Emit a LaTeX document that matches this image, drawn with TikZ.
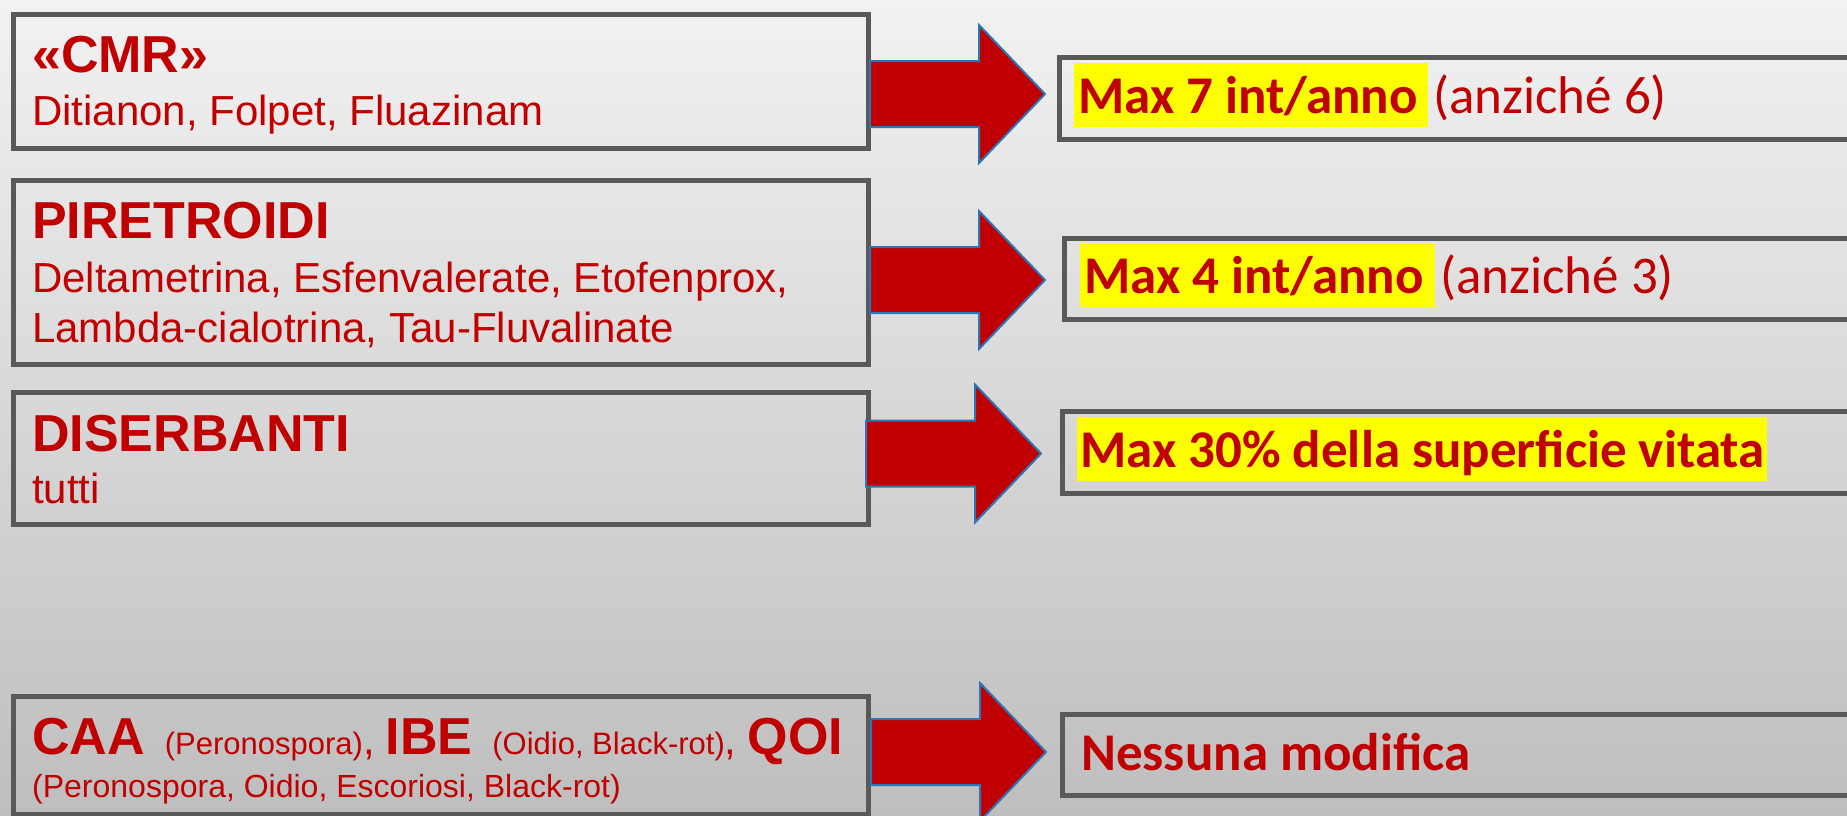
\documentclass[tikz,border=0pt]{standalone}
\usepackage{fontspec}
\usetikzlibrary{calc}
\setmainfont{Liberation Sans}
\newfontfamily\carl{Carlito}
\definecolor{darkred}{HTML}{C00000}
\definecolor{boxgray}{HTML}{595959}
\definecolor{arrowblue}{HTML}{2E75B6}
\definecolor{bgtop}{HTML}{F2F2F2}
\definecolor{bgbot}{HTML}{BEBEBE}
\definecolor{hlyellow}{HTML}{FFFF00}
\newcommand\fsz[1]{\fontsize{#1}{#1}\selectfont}
\begin{document}
\begin{tikzpicture}[x=1pt,y=-1pt,
  lbox/.style={draw=boxgray, line width=5pt, anchor=north west, inner sep=0pt, minimum width=855pt},
  rbox/.style={draw=boxgray, line width=5pt, anchor=north west, inner sep=0pt, minimum width=850pt},
  ltxt/.style={anchor=base west, inner sep=0pt, text=darkred, font=\fsz{42}},
  lhead/.style={anchor=base west, inner sep=0pt, text=darkred, font=\bfseries\fsz{52}},
  hl/.style={fill=hlyellow, anchor=base west, inner sep=0pt, text=darkred, font=\carl\bfseries\fsz{53}, text height=50pt, text depth=14pt},
  rtxt/.style={anchor=base west, inner sep=0pt, text=darkred, font=\carl\fsz{53}},
  rbold/.style={anchor=base west, inner sep=0pt, text=darkred, font=\carl\bfseries\fsz{53}},
  barrow/.pic={\draw[fill=darkred, draw=arrowblue, line width=2pt, line join=miter]
     (0,-33) -- (109,-33) -- (109,-69) -- (175,0) -- (109,69) -- (109,33) -- (0,33) -- cycle;}
]
\useasboundingbox (0,0) rectangle (1847,815);
\shade[top color=bgtop, bottom color=bgbot] (0,0) rectangle (1847,815);

% left boxes
\node[lbox, minimum height=134pt] (b1) at (11,12) {};
\node[lbox, minimum height=184pt] (b2) at (11,177.5) {};
\node[lbox, minimum height=132pt] (b3) at (11,389.5) {};
\node[lbox, minimum height=118pt] (b4) at (11,693.5) {};

% right boxes
\node[rbox, minimum height=82pt] (r1) at (1056.5,54.5) {};
\node[rbox, minimum height=81pt] (r2) at (1061.5,236) {};
\node[rbox, minimum height=82pt] (r3) at (1059.5,408.5) {};
\node[rbox, minimum height=81pt] (r4) at (1059.5,711.5) {};

% arrows
\pic (a1) at (870,94) {barrow};
\pic (a2) at (870,280) {barrow};
\pic (a3) at (866,453.5) {barrow};
\pic (a4) at (871,752) {barrow};

% left texts
\node[lhead] (t1a) at (32,72) {«CMR»};
\node[ltxt] (t1b) at (32,125) {Ditianon, Folpet, Fluazinam};

\node[lhead] (t2a) at (32,238) {PIRETROIDI};
\node[ltxt] (t2b) at (32,292) {Deltametrina, Esfenvalerate, Etofenprox,};
\node[ltxt] (t2c) at (32,342) {Lambda-cialotrina, Tau-Fluvalinate};

\node[lhead] (t3a) at (32,451) {DISERBANTI};
\node[ltxt] (t3b) at (32,503) {tutti};

\node[anchor=base west, inner sep=0pt, text=darkred] (t4a) at (32,754)
  {{\bfseries\fsz{52}CAA}\hspace{20pt}{\fsz{31}(Peronospora)}{\fsz{42},}\hspace{11pt}{\bfseries\fsz{52}IBE}\hspace{20pt}{\fsz{31}(Oidio, Black-rot)}{\fsz{42},}\hspace{11pt}{\bfseries\fsz{52}QOI}};
\node[anchor=base west, inner sep=0pt, text=darkred, font=\fsz{32}] (t4b) at (32,797)
  {(Peronospora, Oidio, Escoriosi, Black-rot)};

% right texts
\node[hl] (h1) at (1074,113) {\rule{4pt}{0pt}Max 7 int/anno\rule{10pt}{0pt}};
\node[rtxt] (n1) at ($(h1.base east)+(5,0)$) {(anziché 6)};

\node[hl] (h2) at (1080,293) {\rule{4pt}{0pt}Max 4 int/anno\rule{11pt}{0pt}};
\node[rtxt] (n2) at ($(h2.base east)+(5,0)$) {(anziché 3)};

\node[hl] (h3) at (1077,467) {\rule{3pt}{0pt}Max 30\% della superficie vitata\rule{2pt}{0pt}};

\node[rbold] (h4) at (1081,770) {Nessuna modifica};
\end{tikzpicture}
\end{document}
